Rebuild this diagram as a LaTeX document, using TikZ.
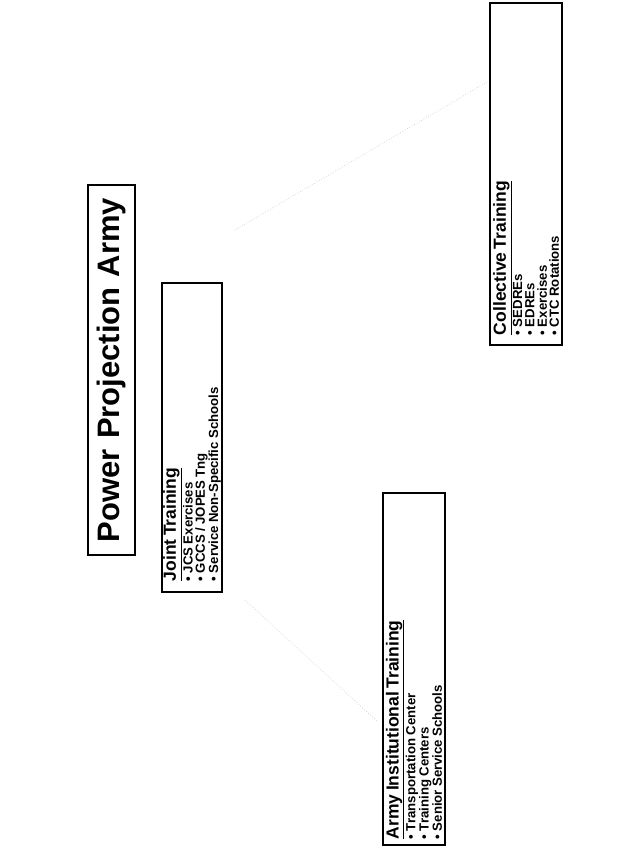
\documentclass[tikz,border=0pt]{standalone}
\usepackage{fontspec}
\setmainfont{Liberation Sans}
\newcommand{\hdline}[1]{\fontsize{17.5}{18}\selectfont\underline{#1}}
\newcommand{\bulsize}{\fontsize{13.2}{12.3}\selectfont}
\begin{document}
\begin{tikzpicture}[x=1pt,y=-1pt,
  box/.style={draw=black, line width=1.8pt, rotate=90, inner ysep=0pt, align=left, font=\bfseries},
  faint/.style={draw=black!20, line width=0.7pt, dotted}]
\useasboundingbox (0,0) rectangle (621,852);

\node[box, minimum width=370pt, minimum height=47pt, text width=350pt, inner xsep=10pt,
      align=center, font=\bfseries\fontsize{31}{33}\selectfont] (title) at (111.5,370) {Power Projection Army};

\node[box, minimum width=309pt, minimum height=60pt, text width=287pt, inner xsep=11pt] (joint) at (192,437.5)
  {\hdline{Joint Training}\\[0.5pt]\bulsize
   \textbullet\ JCS Exercises\\
   \textbullet\ GCCS / JOPES Tng\\
   \textbullet\ Service Non-Specific Schools};

\node[box, minimum width=342pt, minimum height=72pt, text width=322pt, inner xsep=10pt] (coll) at (526,174)
  {\hdline{Collective Training}\\[0.5pt]\bulsize
   \textbullet\ SEDREs\\
   \textbullet\ EDREs\\
   \textbullet\ Exercises\\
   \textbullet\ CTC Rotations};

\node[box, minimum width=352pt, minimum height=62pt, text width=340pt, inner xsep=6pt] (inst) at (414,669)
  {\hdline{Army Institutional Training}\\[0.5pt]\bulsize
   \textbullet\ Transportation Center\\
   \textbullet\ Training Centers\\
   \textbullet\ Senior Service Schools};

\coordinate (a1) at (235,230);
\coordinate (a2) at (487,82);
\coordinate (b1) at (245,600);
\coordinate (b2) at (378,722);
\draw[faint] (a1) -- (a2);
\draw[faint] (b1) -- (b2);
\end{tikzpicture}
\end{document}
